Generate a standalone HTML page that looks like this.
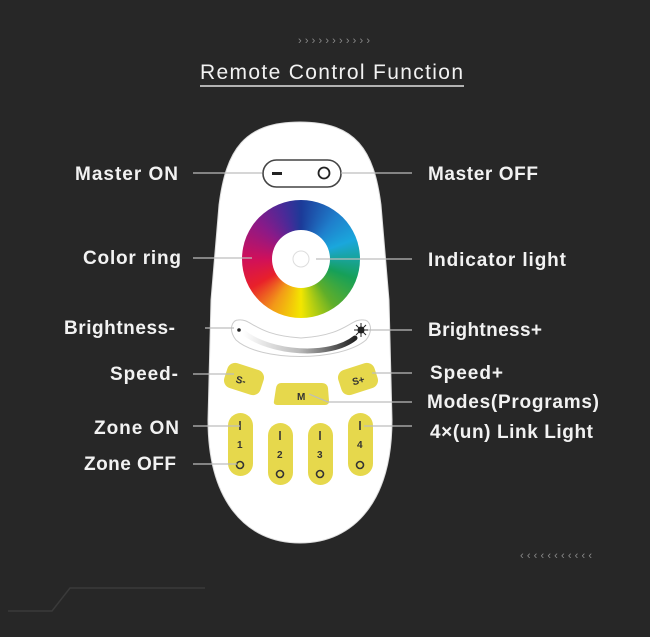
<!DOCTYPE html>
<html><head><meta charset="utf-8"><style>
html,body{margin:0;padding:0;background:#272727;}
svg{display:block}
.t{font-family:"Liberation Sans",sans-serif;font-size:19px;font-weight:bold;fill:#f2f2f2;}
.l{stroke:#bdbdbd;stroke-width:1.2;fill:none}
.b{font-family:"Liberation Sans",sans-serif;font-size:10px;fill:#333;font-weight:bold}
</style></head><body>
<div style="position:relative;width:650px;height:637px;overflow:hidden;background:#272727">
<svg width="650" height="637" viewBox="0 0 650 637" style="position:absolute;left:0;top:0">
<text x="298" y="44" font-family="Liberation Sans" font-size="11" fill="#8a8a8a" textLength="72">›››››››››››</text>
<text x="520" y="559" font-family="Liberation Sans" font-size="11" fill="#8a8a8a" textLength="72">‹‹‹‹‹‹‹‹‹‹‹</text>
<polyline points="8,611 52,611 70,588 205,588" fill="none" stroke="#3a3a3a" stroke-width="1.5"/>
<text x="200" y="79" font-family="Liberation Sans" font-size="21" fill="#f2f2f2" textLength="263">Remote Control Function</text>
<line x1="200" y1="86" x2="464" y2="86" stroke="#e0e0e0" stroke-width="1.5"/>
<path d="M300 122 C244 122 226 150 219 205 L211 300 L208 420 C208 500 245 543 300 543 C355 543 392 500 392 420 L389 300 L381 205 C374 150 356 122 300 122 Z" fill="#fff" stroke="#ddd" stroke-width="1"/>
<rect x="263" y="160" width="78" height="27" rx="13.5" fill="#fff" stroke="#444" stroke-width="1.6"/>
<rect x="272" y="172" width="10" height="3" fill="#222"/>
<circle cx="324" cy="173" r="5.5" fill="none" stroke="#222" stroke-width="1.8"/>
</svg>
<div style="position:absolute;left:242px;top:200px;width:118px;height:118px;border-radius:50%;background:conic-gradient(from 0deg,#1c3a98 0deg,#1f7fcc 40deg,#1aa7dc 70deg,#16a058 110deg,#5fae2a 145deg,#f3e600 180deg,#f29a18 210deg,#e8202a 240deg,#d0105a 270deg,#8a1a88 310deg,#4a2a98 340deg,#1c3a98 360deg)"></div>
<div style="position:absolute;left:272px;top:230px;width:58px;height:58px;border-radius:50%;background:#fff"></div>
<svg width="650" height="637" viewBox="0 0 650 637" style="position:absolute;left:0;top:0">
<defs><linearGradient id="g" x1="0" x2="1" y1="0" y2="0"><stop offset="0" stop-color="#fff"/><stop offset="0.5" stop-color="#bbb"/><stop offset="1" stop-color="#222"/></linearGradient></defs>
<circle cx="301" cy="259" r="8" fill="none" stroke="#ddd" stroke-width="1"/>
<path d="M238 320 C232 320 228 330 236 340 C260 362 340 362 366 340 C374 330 370 320 364 320 C350 318 348 335 301 338 C254 335 252 318 238 320 Z" fill="#fff" stroke="#ccc" stroke-width="1"/>
<path d="M243 332 C270 354 330 358 355 338" fill="none" stroke="url(#g)" stroke-width="5" stroke-linecap="round"/>
<circle cx="239" cy="330" r="1.8" fill="#222"/>
<circle cx="361" cy="330" r="3.5" fill="#222"/>
<g stroke="#222" stroke-width="1"><line x1="361" y1="323" x2="361" y2="337"/><line x1="354" y1="330" x2="368" y2="330"/><line x1="356" y1="325" x2="366" y2="335"/><line x1="366" y1="325" x2="356" y2="335"/></g>
<g fill="#e6d84c">
<rect x="225" y="366" width="38" height="26" rx="8" transform="rotate(18 244 379)"/>
<rect x="339" y="366" width="38" height="26" rx="8" transform="rotate(-18 358 379)"/>
<path d="M281 383 L322 383 Q327 383 328 388 L329 401 Q329 405 325 405 L278 405 Q273 405 274 401 L276 388 Q277 383 281 383 Z"/>
<rect x="228" y="413" width="25" height="63" rx="12.5"/>
<rect x="268" y="423" width="25" height="62" rx="12.5"/>
<rect x="308" y="423" width="25" height="62" rx="12.5"/>
<rect x="348" y="413" width="25" height="63" rx="12.5"/>
</g>
<text x="236" y="384" class="b" transform="rotate(15 242 380)">S-</text>
<text x="352" y="384" class="b" transform="rotate(-15 358 380)">S+</text>
<text x="297" y="400" class="b">M</text>
<g stroke="#333" stroke-width="1.6" fill="none">
<line x1="240" y1="421" x2="240" y2="430"/><circle cx="240" cy="465" r="3.5"/>
<line x1="280" y1="431" x2="280" y2="440"/><circle cx="280" cy="474" r="3.5"/>
<line x1="320" y1="431" x2="320" y2="440"/><circle cx="320" cy="474" r="3.5"/>
<line x1="360" y1="421" x2="360" y2="430"/><circle cx="360" cy="465" r="3.5"/>
</g>
<text x="237" y="448" class="b" font-size="8">1</text>
<text x="277" y="458" class="b" font-size="8">2</text>
<text x="317" y="458" class="b" font-size="8">3</text>
<text x="357" y="448" class="b" font-size="8">4</text>
<line class="l" x1="193" y1="173" x2="262" y2="173"/>
<line class="l" x1="341" y1="173" x2="412" y2="173"/>
<line class="l" x1="193" y1="258" x2="252" y2="258"/>
<line class="l" x1="316" y1="259" x2="412" y2="259"/>
<line class="l" x1="205" y1="328" x2="234" y2="328"/>
<line class="l" x1="368" y1="330" x2="412" y2="330"/>
<line class="l" x1="193" y1="374" x2="234" y2="374"/>
<line class="l" x1="372" y1="373" x2="412" y2="373"/>
<polyline class="l" points="309,394 328,402 412,402"/>
<line class="l" x1="193" y1="426" x2="240" y2="426"/>
<line class="l" x1="193" y1="464" x2="237" y2="464"/>
<line class="l" x1="364" y1="426" x2="412" y2="426"/>
<text class="t" x="75" y="180" textLength="103">Master ON</text>
<text class="t" x="83" y="264" textLength="98">Color ring</text>
<text class="t" x="64" y="334" textLength="111">Brightness-</text>
<text class="t" x="110" y="380" textLength="68">Speed-</text>
<text class="t" x="94" y="434" textLength="85">Zone ON</text>
<text class="t" x="84" y="470" textLength="92">Zone OFF</text>
<text class="t" x="428" y="180" textLength="110">Master OFF</text>
<text class="t" x="428" y="266" textLength="138">Indicator light</text>
<text class="t" x="428" y="336" textLength="114">Brightness+</text>
<text class="t" x="430" y="379" textLength="73">Speed+</text>
<text class="t" x="427" y="408" textLength="172">Modes(Programs)</text>
<text class="t" x="430" y="438" textLength="163">4×(un) Link Light</text>
</svg>
</div>
</body></html>
